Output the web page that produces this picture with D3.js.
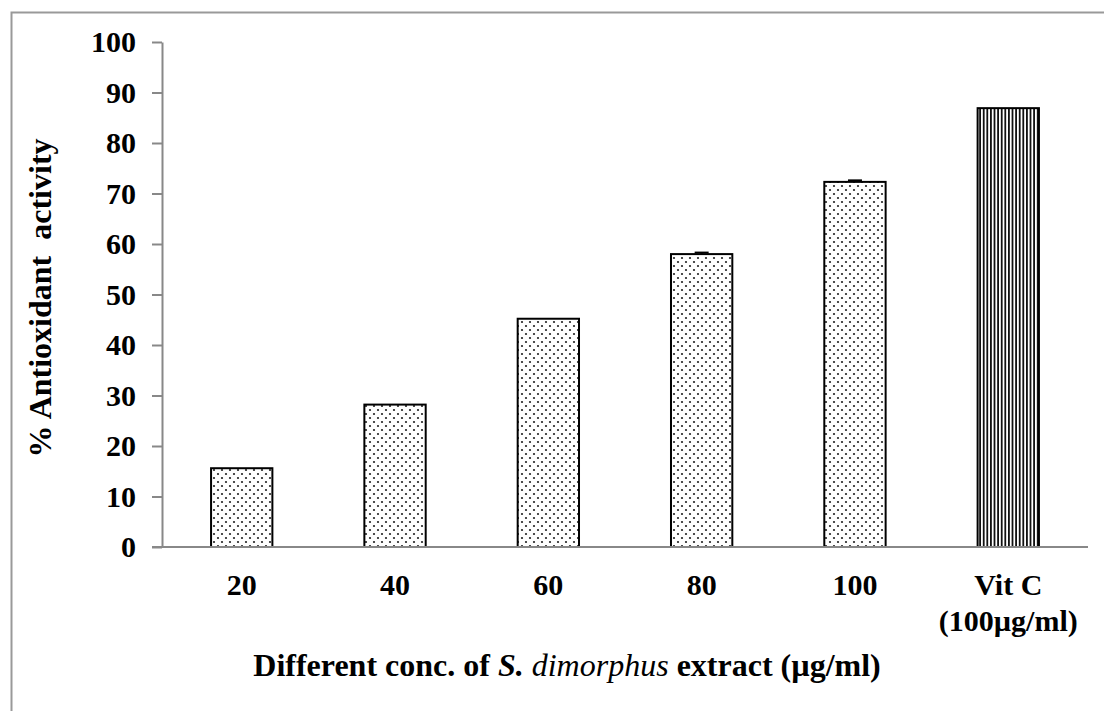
<!DOCTYPE html>
<html><head><meta charset="utf-8">
<script src="https://cdn.jsdelivr.net/npm/d3@7"></script>
<style>body{margin:0;background:#fff}</style>
</head><body>
<svg id="c" width="1104" height="711"></svg>
<script>
const categories = ["20", "40", "60", "80", "100", "Vit C\n(100µg/ml)"];
const values = [15.6, 28.2, 45.2, 58.0, 72.3, 86.9];
const errors = [0, 0, 0, 0.3, 0.3, 0];
const yTicks = [0, 10, 20, 30, 40, 50, 60, 70, 80, 90, 100];

const svg = d3.select("#c");
const m = {l: 162, r: 1088, t: 42, b: 547};
const font = "'Liberation Serif','Times New Roman',serif";

// frame
svg.append("path").attr("d", "M11.5,711 V12.5 H1104").attr("fill", "none").attr("stroke", "#999").attr("stroke-width", 2);

const defs = svg.append("defs");
const dots = defs.append("pattern").attr("id", "dots").attr("patternUnits", "userSpaceOnUse")
  .attr("width", 8).attr("height", 8);
dots.append("rect").attr("width", 8).attr("height", 8).attr("fill", "#fff");
dots.append("circle").attr("cx", 2).attr("cy", 2).attr("r", 1.1).attr("fill", "#222");
dots.append("circle").attr("cx", 6).attr("cy", 6).attr("r", 1.1).attr("fill", "#222");
const stripes = defs.append("pattern").attr("id", "stripes").attr("patternUnits", "userSpaceOnUse")
  .attr("width", 3.6).attr("height", 10);
stripes.append("rect").attr("width", 3.6).attr("height", 10).attr("fill", "#fff");
stripes.append("rect").attr("x", 0).attr("width", 1.8).attr("height", 10).attr("fill", "#111");

const x = d3.scaleBand().domain(categories).range([m.l, m.r]).paddingInner(0.6).paddingOuter(0.32);
const y = d3.scaleLinear().domain([0, 100]).range([m.b, m.t]);

// bars
svg.selectAll("rect.bar").data(categories).join("rect").attr("class", "bar")
  .attr("x", d => x(d)).attr("width", x.bandwidth())
  .attr("y", (d, i) => y(values[i])).attr("height", (d, i) => y(0) - y(values[i]))
  .attr("fill", (d, i) => i === 5 ? "url(#stripes)" : "url(#dots)")
  .attr("stroke", "#000").attr("stroke-width", 2);

// error bars
categories.forEach((c, i) => {
  if (!errors[i]) return;
  const cx = x(c) + x.bandwidth() / 2;
  const g = svg.append("g").attr("stroke", "#000").attr("stroke-width", 2);
  g.append("line").attr("x1", cx).attr("x2", cx).attr("y1", y(values[i] + errors[i])).attr("y2", y(values[i]));
  g.append("line").attr("x1", cx - 7).attr("x2", cx + 7).attr("y1", y(values[i] + errors[i])).attr("y2", y(values[i] + errors[i]));
});

// y axis
const ya = svg.append("g").attr("transform", `translate(${m.l},0)`)
  .call(d3.axisLeft(y).tickValues(yTicks).tickSize(10).tickSizeOuter(0).tickPadding(16));
ya.select(".domain").attr("stroke", "#888").attr("stroke-width", 2);
ya.selectAll(".tick line").attr("stroke", "#888").attr("stroke-width", 2);
ya.selectAll("text").attr("font-family", font).attr("font-weight", "bold").attr("font-size", 30).attr("fill", "#000");

// x axis
svg.append("line").attr("x1", m.l - 10).attr("x2", m.r).attr("y1", m.b).attr("y2", m.b)
  .attr("stroke", "#888").attr("stroke-width", 2);
categories.forEach(c => {
  const lines = c.split("\n");
  const t = svg.append("text").attr("x", x(c) + x.bandwidth() / 2).attr("y", 595)
    .attr("text-anchor", "middle").attr("font-family", font).attr("font-weight", "bold").attr("font-size", 30);
  lines.forEach((l, k) => t.append("tspan").attr("x", x(c) + x.bandwidth() / 2).attr("dy", k ? 36 : 0).text(l));
});

// titles
const xt = svg.append("text").attr("x", 567).attr("y", 676).attr("text-anchor", "middle")
  .attr("font-family", font).attr("font-weight", "bold").attr("font-size", 32);
xt.append("tspan").text("Different conc. of ");
xt.append("tspan").attr("font-style", "italic").text("S. ");
xt.append("tspan").attr("font-style", "italic").attr("font-weight", "normal").text("dimorphus");
xt.append("tspan").text(" extract (µg/ml)");

svg.append("text").attr("transform", "translate(51,298) rotate(-90)").attr("text-anchor", "middle")
  .attr("font-family", font).attr("font-weight", "bold").attr("font-size", 32)
  .attr("xml:space", "preserve").style("white-space", "pre").text("% Antioxidant  activity");
</script>
</body></html>
